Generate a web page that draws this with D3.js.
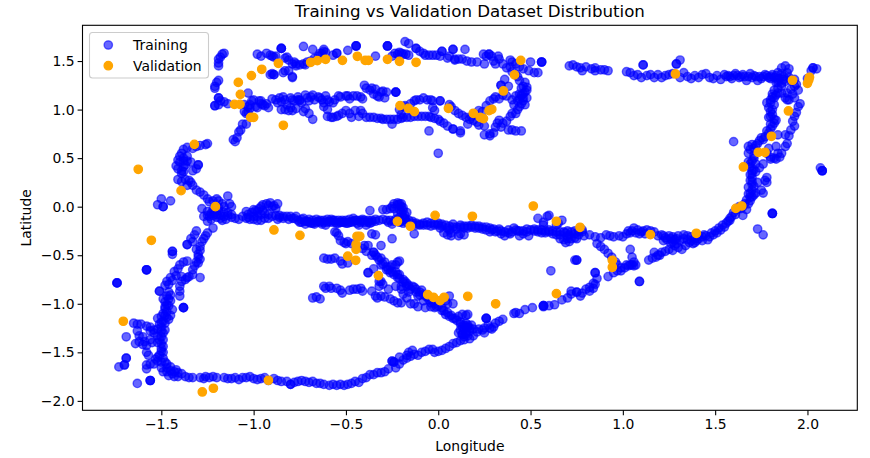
<!DOCTYPE html>
<html><head><meta charset="utf-8">
<script src="https://cdn.jsdelivr.net/npm/d3@7"></script>
<style>html,body{margin:0;padding:0;background:#fff}svg{display:block}text{font-family:"DejaVu Sans",sans-serif;fill:#000}</style>
</head><body><div id="c"></div>
<script>
const trainNorthArc=[[-0.98,1.57],[-0.96,1.55],[-0.93,1.58],[-0.91,1.56],[-0.90,1.55],[-0.89,1.54],[-0.88,1.55],[-0.85,1.63],[-0.85,1.63],[-0.85,1.63],[-0.83,1.53],[-0.82,1.54],[-0.81,1.51],[-0.79,1.47],[-0.78,1.49],[-0.77,1.47],[-0.77,1.45],[-0.75,1.46],[-0.73,1.47],[-0.72,1.46],[-0.71,1.49],[-0.69,1.50],[-0.67,1.53],[-0.65,1.55],[-0.64,1.58],[-0.63,1.58],[-0.62,1.60],[-0.62,1.62],[-0.61,1.59],[-0.73,1.65],[-0.68,1.62],[-0.55,1.58],[-0.55,1.58],[-0.57,1.56],[-0.49,1.61],[-0.445,1.655],[-0.445,1.655],[-0.445,1.655],[-0.34,1.55],[-0.275,1.655],[-0.275,1.655],[-0.275,1.655],[-0.25,1.55],[-0.234,1.58],[-0.22,1.57],[-0.21,1.59],[-0.20,1.58],[-0.19,1.57],[-0.175,1.57],[-0.16,1.56],[-0.18,1.70],[-0.16,1.68],[-0.12,1.63],[-0.12,1.63],[-0.10,1.60],[-0.08,1.58],[-0.07,1.56],[-0.05,1.56],[-0.03,1.56],[-0.01,1.56],[0.01,1.55],[0.02,1.60],[0.02,1.60],[0.05,1.53],[0.06,1.55],[0.08,1.62],[0.08,1.62],[0.09,1.52],[0.09,1.51],[0.11,1.52],[0.13,1.52],[0.145,1.62],[0.155,1.50],[0.18,1.49],[0.21,1.49],[0.245,1.57],[0.25,1.47],[0.26,1.55],[0.275,1.57],[0.275,1.57],[0.29,1.55],[0.30,1.50],[0.31,1.47],[0.325,1.55],[0.33,1.52],[0.35,1.47],[0.37,1.43],[0.39,1.51],[0.39,1.44],[0.40,1.49],[0.42,1.47],[0.44,1.44],[0.46,1.42],[0.50,1.49],[0.49,1.40],[0.52,1.38],[0.54,1.38],[0.56,1.49],[0.56,1.49],[0.56,1.49],[-0.91,1.36],[-0.90,1.37],[-0.89,1.36],[-0.89,1.36],[-0.84,1.38],[-0.83,1.40],[-0.81,1.40],[-0.79,1.33],[-0.79,1.34],[0.38,1.24],[0.36,1.31],[0.34,1.25],[0.34,1.25]];
const trainLeftBranch=[[-1.16,1.58],[-1.17,1.57],[-1.18,1.54],[-1.19,1.52],[-1.19,1.48],[-1.19,1.45],[-1.20,1.28],[-1.21,1.24],[-1.21,1.22],[-1.19,1.30],[-1.19,1.12],[-1.19,1.12],[-1.18,1.09],[-1.21,1.04],[-1.21,1.04],[-1.19,1.05],[-1.16,1.08],[-1.14,1.06],[-1.11,0.69],[-1.10,0.67],[-1.09,0.71],[-1.08,0.77],[-1.07,0.79],[-1.06,0.85],[-1.04,0.85],[-1.04,0.96],[-1.05,0.98],[-1.03,0.97],[-1.02,1.01],[-1.05,1.05],[-1.02,1.05],[-1.03,1.03],[-1.01,1.09],[-1.0,1.10],[-1.03,1.17],[-0.99,1.03],[-0.98,1.02],[-0.96,1.06],[-0.95,1.05],[-0.94,1.04],[-0.97,1.09],[-0.96,1.09],[-0.93,1.06],[-0.92,1.02]];
const trainMiddleUpper=[[-0.90,1.11],[-0.88,1.10],[-0.87,1.07],[-0.86,1.12],[-0.85,1.08],[-0.84,1.13],[-0.83,1.10],[-0.82,1.05],[-0.80,1.12],[-0.79,1.10],[-0.78,1.09],[-0.77,1.01],[-0.76,1.13],[-0.75,1.10],[-0.74,1.07],[-0.73,0.98],[-0.72,1.15],[-0.71,1.12],[-0.70,1.09],[-0.69,1.13],[-0.68,1.15],[-0.67,1.10],[-0.65,1.13],[-0.64,1.12],[-0.63,1.10],[-0.62,1.07],[-0.85,1.00],[-0.83,1.00],[-0.81,0.99],[-0.80,1.02],[-0.79,0.99],[-0.76,1.10],[-0.75,1.09],[-0.72,1.01],[-0.70,0.96],[-0.68,0.90],[-0.62,1.03],[-0.60,1.00],[-0.61,1.14],[-0.60,1.10],[-0.59,1.08],[-0.57,1.07],[-0.56,1.10],[-0.54,1.14],[-0.53,1.13],[-0.50,1.14],[-0.49,1.14],[-0.48,1.11],[-0.46,1.14],[-0.44,1.14],[-0.42,1.13],[-0.41,1.11],[-0.40,1.25],[-0.39,1.22],[-0.37,1.20],[-0.36,1.22],[-0.35,1.16],[-0.34,1.21],[-0.33,1.14],[-0.32,1.13],[-0.31,1.18],[-0.30,1.19],[-0.29,1.12],[-0.28,1.18],[-0.23,1.18],[-0.23,1.18],[-0.23,1.18]];
const trainMiddleLower=[[-0.60,0.93],[-0.58,0.92],[-0.57,0.92],[-0.55,0.93],[-0.54,0.94],[-0.52,0.96],[-0.50,0.99],[-0.48,0.96],[-0.47,0.92],[-0.45,0.99],[-0.43,0.93],[-0.42,0.99],[-0.41,0.96],[-0.39,0.92],[-0.37,0.92],[-0.35,0.92],[-0.33,0.91],[-0.31,0.91],[-0.30,0.90],[-0.28,0.90],[-0.26,0.90],[-0.24,0.90],[-0.22,0.90],[-0.20,0.91],[-0.19,0.92],[-0.17,0.92],[-0.15,0.92],[-0.13,0.93],[-0.11,0.93],[-0.09,0.93],[-0.07,0.93],[-0.05,0.93],[-0.04,0.92],[-0.02,0.91],[0.0,0.90],[0.01,0.88],[0.03,0.86],[0.05,0.83],[0.08,0.80],[0.08,0.80],[0.12,0.78],[0.12,0.76],[0.16,0.85],[0.17,0.90],[0.19,0.89],[0.21,0.87],[0.22,0.84],[0.25,0.83],[0.25,0.74],[0.28,0.75],[0.28,0.73],[0.30,0.76],[0.31,0.82],[0.32,0.86],[0.33,0.89],[0.34,0.82],[0.35,0.86],[-0.25,0.85],[-0.20,0.95],[-0.21,1.00],[-0.19,1.03],[-0.18,1.04],[-0.15,1.06],[-0.13,1.09],[-0.12,1.10],[-0.10,1.10],[-0.08,1.12],[-0.06,1.10],[-0.04,1.10],[-0.03,1.09],[-0.03,1.02],[-0.02,0.99],[0.01,1.09],[0.01,1.09],[0.06,1.05],[0.07,1.03],[0.09,0.99],[0.11,0.96],[0.13,0.94],[0.15,0.92],[-0.05,0.78],[0.0,0.55],[0.18,0.93],[0.20,0.95],[0.22,0.99],[0.24,0.98],[0.26,1.04],[0.28,1.09],[0.30,1.11],[0.31,1.13],[0.33,1.11],[0.35,1.15],[0.37,1.14],[0.40,1.10],[0.42,1.14],[0.44,1.16],[0.46,1.16],[0.48,1.20],[0.48,1.12],[0.47,1.18],[0.46,1.24],[0.47,1.28],[0.45,1.22],[0.44,1.30],[0.43,1.34],[0.40,1.39],[0.42,1.36],[0.46,1.09],[0.47,1.05],[0.45,1.06],[0.43,1.00],[0.41,1.05],[0.43,1.09],[0.40,0.96],[0.39,0.93],[0.42,0.96],[0.37,0.88],[0.38,0.79],[0.40,0.79],[0.42,0.78],[0.45,0.78],[0.44,1.11],[0.44,1.03],[0.46,1.12],[0.48,1.23],[0.45,1.15]];
const trainLeftColumn=[[-1.25,0.65],[-1.26,0.64],[-1.29,0.63],[-1.31,0.62],[-1.33,0.60],[-1.36,0.61],[-1.38,0.59],[-1.39,0.55],[-1.38,0.50],[-1.40,0.52],[-1.41,0.48],[-1.42,0.42],[-1.41,0.39],[-1.39,0.37],[-1.38,0.36],[-1.39,0.34],[-1.36,0.47],[-1.34,0.46],[-1.30,0.43],[-1.30,0.43],[-1.31,0.39],[-1.33,0.37],[-1.41,0.28],[-1.39,0.26],[-1.37,0.28],[-1.35,0.27],[-1.34,0.25],[-1.33,0.22],[-1.31,0.17],[-1.29,0.15],[-1.27,0.12],[-1.25,0.08],[-1.38,0.47],[-1.36,0.52],[-1.37,0.43],[-1.40,0.46],[-1.38,0.41],[-1.36,0.22],[-1.52,0.02],[-1.50,0.08],[-1.49,0.0],[-1.49,0.0],[-1.45,0.06]];
const trainMainBandWest=[[-1.28,-0.02],[-1.24,0.05],[-1.22,0.06],[-1.20,0.08],[-1.19,0.06],[-1.19,-0.04],[-1.17,0.03],[-1.18,-0.12],[-1.16,0.0],[-1.16,-0.06],[-1.14,0.11],[-1.13,0.03],[-1.12,0.0],[-1.14,-0.09],[-1.12,-0.11],[-1.20,-0.11],[-1.21,-0.06],[-1.23,-0.07],[-1.25,-0.09],[-1.27,-0.10],[-1.25,-0.15],[-1.23,-0.13],[-1.10,-0.12],[-1.08,-0.13],[-1.06,-0.10],[-1.04,-0.05],[-1.03,-0.08],[-1.01,-0.06],[-1.0,-0.03],[-0.99,-0.04],[-0.97,-0.02],[-0.96,-0.0],[-0.95,0.02],[-0.93,0.03],[-0.91,0.04],[-0.92,0.01],[-0.89,0.01],[-0.87,0.03],[-1.04,-0.12],[-1.02,-0.13],[-1.0,-0.13],[-0.98,-0.14],[-0.96,-0.14],[-0.94,-0.12],[-0.92,-0.12],[-0.90,-0.10],[-0.88,-0.09],[-0.86,-0.09],[-0.84,-0.10],[-0.82,-0.10],[-0.80,-0.10],[-0.78,-0.12],[-0.76,-0.14],[-0.86,-0.11],[-0.87,-0.13],[-0.84,-0.12],[-0.81,-0.13],[-0.79,-0.12],[-0.77,-0.10],[-0.75,-0.16],[-0.74,-0.13],[-0.73,-0.12],[-0.72,-0.18],[-0.71,-0.15],[-0.70,-0.13],[-0.69,-0.17],[-0.68,-0.14],[-0.67,-0.18],[-0.66,-0.13],[-0.65,-0.15],[-0.64,-0.16],[-0.62,-0.14],[-0.63,-0.18],[-0.61,-0.19],[-0.60,-0.13],[-0.59,-0.15],[-0.58,-0.16],[-0.57,-0.14],[-0.56,-0.16],[-0.55,-0.17],[-0.54,-0.14],[-0.53,-0.16],[-0.52,-0.14],[-0.51,-0.16],[-0.50,-0.14],[-0.49,-0.17],[-0.48,-0.13],[-0.47,-0.16],[-0.46,-0.12],[-0.45,-0.14],[-0.44,-0.17],[-0.43,-0.19],[-0.42,-0.16],[-0.41,-0.13],[-0.40,-0.14],[-0.39,-0.19],[-0.38,-0.14],[-0.36,-0.14],[-0.34,-0.15],[-0.37,-0.04],[-0.30,-0.03],[-0.28,-0.03],[-0.27,-0.16],[-0.25,-0.18],[-0.26,-0.02],[-0.25,0.0],[-0.24,0.03],[-0.22,0.04],[-0.21,0.03],[-0.20,0.03],[-0.19,-0.01],[-0.17,-0.06],[-0.20,-0.06],[-0.19,-0.11],[-0.22,-0.07],[-0.23,-0.13],[-0.21,-0.16],[-0.19,-0.17],[-0.17,-0.16],[-0.14,-0.17],[-0.12,-0.19],[-0.10,-0.18],[-0.08,-0.19],[-0.06,-0.19],[-0.04,-0.20],[-0.02,-0.19],[0.0,-0.19],[0.01,-0.22],[0.02,-0.18],[0.03,-0.27],[0.05,-0.22],[0.07,-0.27],[0.06,-0.20],[0.08,-0.21],[0.1,-0.21],[0.12,-0.21],[0.14,-0.22],[0.16,-0.22],[0.18,-0.21],[0.2,-0.22],[0.22,-0.22],[0.24,-0.23],[0.26,-0.21],[0.28,-0.26],[0.29,-0.24],[0.31,-0.26],[0.33,-0.23],[0.34,-0.28],[0.36,-0.30],[0.38,-0.24],[0.39,-0.28],[0.41,-0.22],[0.43,-0.25],[0.44,-0.30],[0.46,-0.28],[0.48,-0.23],[0.49,-0.30],[0.52,-0.25],[0.54,-0.26],[0.56,-0.27],[0.58,-0.27],[0.6,-0.26],[0.62,-0.28],[0.64,-0.29],[0.66,-0.29],[0.68,-0.34],[0.69,-0.37],[0.7,-0.30],[0.69,-0.27],[0.71,-0.29],[0.74,-0.28],[0.75,-0.33],[0.76,-0.29],[0.78,-0.26],[0.79,-0.30],[0.6,-0.09],[0.59,-0.10],[0.57,-0.16],[0.54,-0.12],[0.57,-0.19],[0.65,-0.17],[0.64,-0.19],[0.67,-0.14],[0.75,-0.55],[0.75,-0.55],[-0.13,-0.28],[-0.25,-0.33],[-0.56,-0.26],[-0.54,-0.30],[-0.55,-0.27],[-0.53,-0.35],[-0.51,-0.37],[-0.50,-0.38],[-0.37,-0.17],[-0.36,-0.28],[-0.34,-0.29],[0.14,-0.29],[0.12,-0.28],[0.11,-0.30],[0.05,-0.29],[0.07,-0.30]];
const trainMainBandDense=[[-1.24,-0.10],[-1.22,-0.09],[-1.20,-0.08],[-1.18,-0.09],[-1.16,-0.10],[-1.14,-0.06],[-1.12,-0.08],[-1.25,-0.05],[-1.22,-0.03],[-1.19,-0.01],[-1.17,-0.14],[-1.15,-0.13],[-1.03,-0.11],[-1.0,-0.10],[-0.98,-0.10],[-0.96,-0.08],[-0.94,-0.07],[-0.92,-0.08],[-0.98,-0.05],[-0.95,-0.04],[-0.90,0.0],[-0.88,-0.02],[-0.74,-0.16],[-0.72,-0.15],[-0.70,-0.16],[-0.68,-0.17],[-0.66,-0.16],[-0.64,-0.14],[-0.62,-0.16],[-0.60,-0.16],[-0.58,-0.13],[-0.56,-0.14],[-0.54,-0.17],[-0.52,-0.16],[-0.50,-0.17],[-0.48,-0.16],[-0.46,-0.15],[-0.44,-0.14],[-0.42,-0.14],[-0.40,-0.16],[-0.38,-0.16],[-0.36,-0.16],[-0.34,-0.13],[-0.32,-0.14],[-0.30,-0.13],[-0.28,-0.14],[-0.26,-0.14],[-0.24,-0.15],[-0.22,-0.14],[-0.20,-0.15],[-0.18,-0.13],[-0.16,-0.14],[-0.14,-0.15],[-0.12,-0.17],[-0.10,-0.19],[-0.08,-0.17],[-0.06,-0.16],[-0.04,-0.17],[-0.02,-0.17],[0.0,-0.17],[0.02,-0.20],[0.04,-0.19],[0.06,-0.24],[0.08,-0.18],[0.10,-0.23],[0.12,-0.19],[0.14,-0.20],[0.16,-0.20],[0.18,-0.19],[0.20,-0.20],[0.22,-0.20],[0.24,-0.21],[0.26,-0.24],[0.28,-0.22],[0.30,-0.23],[0.32,-0.25],[0.34,-0.25],[0.36,-0.26],[0.38,-0.27],[0.40,-0.26],[0.42,-0.24],[0.44,-0.25],[0.46,-0.25],[0.48,-0.26],[0.50,-0.24],[0.52,-0.23],[0.54,-0.24],[0.56,-0.24],[0.58,-0.25],[0.60,-0.24],[0.62,-0.25],[0.64,-0.26],[0.66,-0.26],[0.68,-0.26],[0.70,-0.25],[0.72,-0.26],[0.74,-0.25],[0.76,-0.25],[0.78,-0.24],[0.70,-0.33],[0.71,-0.36],[0.72,-0.33],[0.74,-0.32],[0.66,-0.33],[-0.24,-0.02],[-0.22,0.02],[-0.20,0.0],[-0.21,-0.03],[-0.19,-0.04],[-0.18,-0.09],[-0.18,-0.12],[-0.21,-0.11]];
const trainSouthWest=[[-1.22,-0.22],[-1.25,-0.27],[-1.26,-0.30],[-1.27,-0.33],[-1.28,-0.36],[-1.29,-0.41],[-1.29,-0.45],[-1.30,-0.49],[-1.29,-0.54],[-1.30,-0.58],[-1.31,-0.57],[-1.32,-0.61],[-1.29,-0.73],[-1.33,-0.70],[-1.35,-0.72],[-1.37,-0.75],[-1.39,-0.77],[-1.40,-0.82],[-1.40,-0.87],[-1.40,-0.92],[-1.33,-0.36],[-1.34,-0.33],[-1.32,-0.29],[-1.31,-0.25],[-1.36,-0.39],[-1.36,-0.39],[-1.44,-0.46],[-1.44,-0.46],[-1.44,-0.49],[-1.58,-0.65],[-1.58,-0.65],[-1.58,-0.65],[-1.74,-0.785],[-1.74,-0.785],[-1.74,-0.785],[-1.36,-0.56],[-1.38,-0.57],[-1.40,-0.60],[-1.41,-0.64],[-1.43,-0.67],[-1.45,-0.73],[-1.47,-0.77],[-1.48,-0.81],[-1.51,-0.87],[-1.51,-0.87],[-1.46,-0.88],[-1.45,-0.91],[-1.49,-0.95],[-1.48,-0.98],[-1.45,-0.97],[-1.46,-1.02],[-1.44,-1.06],[-1.48,-1.05],[-1.47,-1.01],[-1.45,-1.12],[-1.47,-1.14],[-1.49,-1.10],[-1.50,-1.13],[-1.52,-1.15],[-1.49,-1.18],[-1.48,-1.20],[-1.50,-1.24],[-1.52,-1.26],[-1.54,-1.27],[-1.56,-1.28],[-1.38,-1.04],[-1.38,-1.04],[-1.38,-1.04],[-1.65,-1.20],[-1.63,-1.21],[-1.61,-1.21],[-1.58,-1.23],[-1.56,-1.24],[-1.54,-1.30],[-1.52,-1.33],[-1.49,-1.30],[-1.48,-1.27],[-1.63,-1.28],[-1.62,-1.33],[-1.60,-1.34],[-1.62,-1.39],[-1.64,-1.41],[-1.60,-1.42],[-1.58,-1.43],[-1.55,-1.40],[-1.52,-1.40],[-1.50,-1.41],[-1.49,-1.37],[-1.49,-1.44],[-1.49,-1.50],[-1.50,-1.49],[-1.58,-1.50],[-1.57,-1.53],[-1.69,-1.34],[-1.69,-1.56],[-1.69,-1.56],[-1.70,-1.63],[-1.70,-1.63],[-1.73,-1.65],[-1.63,-1.82],[-1.56,-1.79],[-1.56,-1.79],[-1.56,-1.79],[-1.58,-1.63],[-1.58,-1.67],[-1.56,-1.62],[-1.54,-1.62],[-1.52,-1.55],[-1.52,-1.59],[-1.49,-1.56],[-1.48,-1.60],[-1.47,-1.62],[-1.50,-1.66],[-1.49,-1.70],[-1.47,-1.70],[-1.46,-1.74],[-1.45,-1.69],[-1.43,-1.70],[-1.41,-1.71],[-1.41,-1.75],[-1.39,-1.72],[-1.37,-1.75],[-1.35,-1.76],[-1.33,-1.76],[-1.47,-0.92],[-1.46,-0.95],[-1.48,-1.03],[-1.47,-1.08],[-1.48,-1.12],[-1.46,-1.16],[-1.50,-1.19],[-1.51,-1.21],[-1.50,-1.28],[-1.50,-1.34],[-1.51,-1.37],[-1.56,-1.37],[-1.59,-1.39],[-1.50,-1.46],[-1.51,-1.53],[-1.53,-1.57],[-1.50,-1.60],[-1.47,-1.66],[-1.44,-1.72],[-1.42,-1.68],[-1.45,-1.65],[-1.43,-1.75],[-1.31,-0.44],[-1.30,-0.52],[-1.33,-0.65],[-1.36,-0.73],[-1.39,-0.72],[-1.42,-0.71],[-1.44,-0.76],[-1.46,-0.80]];
const trainSouthArc=[[-1.29,-1.76],[-1.27,-1.77],[-1.26,-1.75],[-1.24,-1.76],[-1.22,-1.75],[-1.20,-1.76],[-1.16,-1.76],[-1.14,-1.77],[-1.12,-1.77],[-1.10,-1.76],[-1.08,-1.78],[-1.06,-1.76],[-1.04,-1.76],[-1.02,-1.75],[-1.0,-1.77],[-0.98,-1.78],[-0.96,-1.77],[-0.94,-1.76],[-0.92,-1.79],[-0.89,-1.77],[-0.87,-1.79],[-0.85,-1.80],[-0.82,-1.80],[-0.80,-1.83],[-0.80,-1.83],[-0.78,-1.81],[-0.76,-1.80],[-0.74,-1.79],[-0.72,-1.80],[-0.70,-1.81],[-0.68,-1.80],[-0.66,-1.82],[-0.64,-1.82],[-0.62,-1.83],[-0.59,-1.84],[-0.57,-1.83],[-0.55,-1.84],[-0.53,-1.83],[-0.51,-1.84],[-0.49,-1.83],[-0.47,-1.82],[-0.45,-1.80],[-0.43,-1.81],[-0.41,-1.77],[-0.39,-1.76],[-0.37,-1.73],[-0.35,-1.73],[-0.33,-1.71],[-0.31,-1.71],[-0.29,-1.70],[-0.27,-1.67],[-0.25,-1.59],[-0.25,-1.59],[-0.23,-1.66],[-0.21,-1.62],[-0.19,-1.58],[-0.17,-1.56],[-0.15,-1.54],[-0.13,-1.52],[-0.11,-1.53],[-0.09,-1.50],[-0.07,-1.49],[-0.05,-1.47],[-0.03,-1.47],[-0.02,-1.50],[0.0,-1.49],[0.02,-1.48],[0.04,-1.46],[0.06,-1.44],[0.08,-1.41],[0.10,-1.40],[0.12,-1.38],[0.13,-1.32],[0.14,-1.34],[0.15,-1.31],[0.17,-1.36],[0.19,-1.33],[0.21,-1.29],[0.24,-1.27],[0.25,-1.30],[0.28,-1.25],[0.30,-1.24],[0.31,-1.20],[0.33,-1.18],[0.35,-1.16],[0.41,-1.10],[0.42,-1.09],[0.44,-1.10],[0.47,-1.06],[0.51,-1.04],[0.57,-1.03],[0.60,-1.02],[0.63,-1.01],[0.67,-0.96],[0.70,-0.94],[0.72,-0.90],[0.75,-0.88],[0.77,-0.92],[0.80,-0.85],[0.82,-0.83],[0.84,-0.79],[0.85,-0.80],[0.75,-0.88],[0.74,-0.55],[0.85,-0.68],[0.85,-0.68],[0.86,-0.74],[0.92,-0.72],[0.95,-0.68],[0.97,-0.66],[0.99,-0.66],[1.01,-0.63],[1.03,-0.61],[1.05,-0.60],[1.07,-0.60],[1.06,-0.61],[1.04,-0.44],[1.05,-0.52],[1.09,-0.77],[1.09,-0.77],[0.86,-0.38],[0.88,-0.41],[0.90,-0.44],[0.92,-0.48],[0.94,-0.52],[0.96,-0.57],[0.97,-0.60],[0.99,-0.63],[0.57,-1.02],[0.57,-1.02],[0.57,-1.02],[-0.24,-1.60],[-0.24,-1.60],[-0.21,-1.55],[-0.17,-1.53],[-0.16,-1.50],[-0.14,-1.48],[0.15,-1.24],[0.17,-1.25],[0.19,-1.26],[0.14,-1.37],[0.16,-1.33],[0.22,-1.26],[0.25,-1.25],[0.27,-1.22],[0.29,-1.26],[0.72,-0.87],[0.78,-0.89],[0.82,-0.87],[0.84,-0.84],[1.02,-0.60],[1.04,-0.60],[1.06,-0.57]];
const trainInnerLoops=[[-0.62,-0.53],[-0.60,-0.54],[-0.58,-0.54],[-0.56,-0.53],[-0.53,-0.56],[-0.52,-0.59],[-0.49,-0.58],[-0.38,-0.40],[-0.35,-0.47],[-0.35,-0.47],[-0.36,-0.50],[-0.33,-0.52],[-0.32,-0.55],[-0.31,-0.60],[-0.30,-0.59],[-0.28,-0.62],[-0.26,-0.62],[-0.25,-0.60],[-0.23,-0.60],[-0.22,-0.57],[-0.21,-0.56],[-0.38,-0.68],[-0.38,-0.68],[-0.28,-0.65],[-0.26,-0.68],[-0.24,-0.70],[-0.22,-0.73],[-0.21,-0.70],[-0.19,-0.75],[-0.18,-0.77],[-0.20,-0.82],[-0.17,-0.82],[-0.15,-0.85],[-0.13,-0.83],[-0.12,-0.88],[-0.10,-0.88],[-0.09,-0.86],[-0.07,-0.92],[-0.05,-0.96],[-0.03,-0.98],[-0.01,-1.03],[0.02,-1.04],[0.03,-1.07],[0.04,-1.11],[0.06,-1.13],[0.08,-1.15],[0.1,-1.17],[0.12,-1.19],[0.14,-1.22],[0.16,-1.24],[0.18,-1.22],[0.12,-1.27],[0.11,-1.30],[0.13,-1.31],[0.15,-1.29],[0.17,-1.28],[0.15,-1.12],[0.16,-1.11],[0.26,-1.15],[0.26,-1.15],[0.26,-1.15],[-0.62,-0.82],[-0.61,-0.84],[-0.59,-0.82],[-0.58,-0.84],[-0.55,-0.84],[-0.53,-0.86],[-0.52,-0.89],[-0.48,-0.86],[-0.46,-0.85],[-0.44,-0.85],[-0.42,-0.84],[-0.41,-0.87],[-0.68,-0.94],[-0.66,-0.93],[-0.64,-0.95],[-0.36,-0.87],[-0.34,-0.92],[-0.33,-0.94],[-0.31,-0.92],[-0.29,-0.93],[-0.26,-0.95],[-0.24,-0.97],[-0.22,-0.99],[-0.20,-0.99],[-0.17,-0.94],[-0.15,-1.0],[-0.13,-1.0],[-0.11,-1.03],[-0.07,-1.04],[-0.04,-1.03],[-0.02,-1.04],[0.04,-0.97],[0.05,-1.0],[0.08,-1.0],[0.06,-0.92],[0.13,-1.11],[-0.32,-0.77],[-0.30,-0.80],[-0.27,-0.85],[-0.23,-0.82],[-0.20,-0.85],[-0.19,-0.90],[-0.16,-0.88],[-0.11,-0.92],[-0.08,-0.97],[-0.40,-0.40],[-0.41,-0.43],[-0.39,-0.46],[-0.47,-0.38],[-0.49,-0.36],[-0.44,-0.42],[-0.31,-0.40],[-0.35,-0.64],[-0.31,-0.77],[-0.32,-0.82],[0.61,-0.66],[-0.34,-0.50],[-0.31,-0.53],[-0.29,-0.57],[-0.27,-0.65],[-0.25,-0.67],[-0.23,-0.67],[-0.22,-0.70],[-0.21,-0.74],[-0.19,-0.78],[-0.17,-0.79],[-0.16,-0.81],[-0.14,-0.82],[-0.12,-0.85],[-0.10,-0.91],[-0.08,-0.90],[-0.06,-0.93],[-0.04,-0.99],[-0.02,-1.0],[0.0,-1.02],[0.02,-1.07],[0.05,-1.09],[0.07,-1.12],[0.09,-1.15],[0.11,-1.13],[0.12,-1.21],[0.13,-1.24],[0.14,-1.26],[0.15,-1.20],[0.16,-1.22]];
const trainEastBand=[[0.82,-0.29],[0.85,-0.31],[0.88,-0.32],[0.91,-0.29],[0.93,-0.30],[0.95,-0.31],[0.98,-0.30],[1.0,-0.31],[1.02,-0.28],[1.03,-0.25],[1.05,-0.25],[1.06,-0.22],[1.08,-0.24],[1.1,-0.26],[1.12,-0.28],[1.15,-0.25],[1.17,-0.26],[1.19,-0.30],[1.21,-0.29],[1.22,-0.35],[1.23,-0.32],[1.25,-0.30],[1.26,-0.38],[1.27,-0.36],[1.28,-0.34],[1.29,-0.33],[1.3,-0.30],[1.33,-0.29],[1.35,-0.30],[1.37,-0.35],[1.39,-0.33],[1.41,-0.30],[1.43,-0.31],[1.44,-0.29],[1.46,-0.34],[1.48,-0.27],[1.5,-0.25],[1.52,-0.22],[1.54,-0.19],[1.56,-0.17],[1.58,-0.14],[1.59,-0.1],[1.6,-0.06],[1.62,-0.03],[1.64,-0.02],[1.65,0.0],[1.66,0.03],[1.67,0.07],[1.69,0.1],[1.69,0.14],[1.7,0.17],[1.68,0.13],[1.72,0.14],[1.71,0.21],[1.7,0.26],[1.7,0.3],[1.69,0.33],[1.7,0.37],[1.69,0.41],[1.68,0.46],[1.7,0.47],[1.71,0.5],[1.71,0.53],[1.72,0.44],[1.74,0.4],[1.76,0.44],[1.72,0.36],[1.68,0.55],[1.73,0.25],[1.77,0.27],[1.78,0.3],[1.78,0.25],[1.75,0.17],[1.76,0.14],[1.67,-0.03],[1.65,-0.09],[1.81,-0.07],[1.81,-0.07],[1.81,-0.07],[1.73,-0.23],[1.76,-0.29],[1.60,0.67],[1.17,-0.47],[1.19,-0.5],[1.21,-0.47],[1.14,-0.55],[1.16,-0.53],[1.18,-0.52],[1.2,-0.5],[1.23,-0.46],[1.25,-0.44],[1.27,-0.45],[1.28,-0.4],[1.3,-0.42],[1.32,-0.44],[1.34,-0.4],[1.36,-0.37],[1.38,-0.38],[1.4,-0.35],[1.04,-0.27],[1.07,-0.27],[1.09,-0.28],[1.11,-0.25],[1.13,-0.24],[1.22,-0.30],[1.24,-0.34],[1.26,-0.33],[1.27,-0.31],[1.29,-0.38],[1.31,-0.35],[1.33,-0.33],[1.35,-0.34],[1.37,-0.31],[1.39,-0.37],[1.41,-0.33],[1.43,-0.35],[1.45,-0.30],[1.47,-0.31],[1.49,-0.29],[1.51,-0.27],[1.53,-0.24],[1.55,-0.21],[1.57,-0.15],[1.58,-0.12],[1.61,-0.08],[1.63,0.0],[1.68,0.03],[1.69,0.06],[1.70,0.10],[1.71,0.12],[1.68,0.20],[1.70,0.23],[1.69,0.27],[1.70,0.34],[1.71,0.38],[1.69,0.44]];
const trainEastColumn=[[1.68,0.62],[1.7,0.64],[1.72,0.63],[1.74,0.68],[1.75,0.71],[1.77,0.72],[1.78,0.78],[1.8,0.8],[1.81,0.83],[1.82,0.86],[1.83,0.89],[1.8,0.93],[1.79,0.92],[1.8,0.98],[1.81,1.0],[1.79,1.02],[1.78,1.07],[1.8,1.1],[1.82,1.12],[1.81,1.16],[1.82,1.2],[1.84,1.22],[1.86,1.17],[1.88,1.12],[1.89,1.17],[1.91,1.21],[1.93,1.24],[1.95,1.2],[1.93,1.12],[1.9,1.1],[1.96,1.06],[1.95,1.03],[1.94,0.97],[1.93,0.93],[1.92,0.88],[1.88,0.74],[1.9,0.73],[1.89,0.65],[1.88,0.62],[1.86,0.55],[1.84,0.55],[1.82,0.5],[1.8,0.49],[1.78,0.55],[1.79,0.6],[1.84,0.74],[1.83,0.62],[1.91,0.79],[1.93,0.83],[1.83,1.28],[1.85,1.32],[1.87,1.31],[1.83,1.35],[1.86,1.37],[1.89,1.38],[1.86,1.43],[1.88,1.45],[1.9,1.42],[1.91,1.3],[1.93,1.31],[1.94,1.26],[2.03,1.43],[2.03,1.43],[2.05,1.42],[2.02,1.4],[2.07,0.4],[2.08,0.37],[2.08,0.37],[2.08,0.37],[2.0,1.32],[1.8,1.32],[1.69,0.59],[1.71,0.60],[1.73,0.65],[1.76,0.69],[1.79,0.76],[1.80,0.85],[1.82,0.9],[1.81,0.95],[1.82,1.05],[1.80,1.07],[1.81,1.13],[1.83,1.15],[1.84,1.17],[1.86,1.24],[1.84,1.28],[1.86,1.27],[1.88,1.29],[1.90,1.33],[1.87,1.34],[1.84,1.38],[1.92,1.16],[1.89,1.10],[1.80,0.51],[1.83,0.49],[1.85,0.51]];
const trainNorthEast=[[0.73,1.46],[0.71,1.45],[0.75,1.44],[0.77,1.43],[0.78,1.40],[0.80,1.44],[0.83,1.42],[0.85,1.43],[0.85,1.40],[0.88,1.41],[0.90,1.41],[0.92,1.40],[1.02,1.39],[1.04,1.38],[1.06,1.35],[1.08,1.36],[1.10,1.33],[1.11,1.46],[1.11,1.46],[1.13,1.35],[1.15,1.36],[1.17,1.33],[1.19,1.36],[1.21,1.33],[1.23,1.35],[1.25,1.36],[1.27,1.37],[1.29,1.47],[1.29,1.47],[1.31,1.51],[1.31,1.33],[1.33,1.38],[1.35,1.34],[1.37,1.32],[1.39,1.35],[1.41,1.33],[1.43,1.36],[1.45,1.37],[1.47,1.33],[1.49,1.32],[1.51,1.35],[1.53,1.31],[1.55,1.36],[1.57,1.35],[1.59,1.32],[1.61,1.37],[1.63,1.33],[1.65,1.36],[1.67,1.30],[1.69,1.37],[1.71,1.35],[1.73,1.30],[1.75,1.32],[1.77,1.36],[1.79,1.33],[1.81,1.36],[1.84,1.31],[1.56,1.34],[1.58,1.34],[1.60,1.35],[1.62,1.35],[1.64,1.34],[1.66,1.34],[1.68,1.34],[1.70,1.33],[1.72,1.34],[1.74,1.34],[1.76,1.34],[1.78,1.35],[1.80,1.34],[1.82,1.33]];
const valLon=[-1.321,-1.625,-1.393,-1.207,-0.866,-0.956,-1.012,-1.083,-1.072,-1.104,-1.074,-1.016,-1.0,-0.839,-0.89,-0.691,-0.655,-0.61,-0.519,-0.438,-0.396,-0.378,-0.275,-0.21,-0.12,0.447,0.413,0.353,-0.207,-0.162,-0.129,0.055,0.19,0.227,0.245,0.275,0.29,0.515,-0.017,0.185,0.64,0.768,-0.221,-0.151,-0.749,-0.44,-0.425,-0.445,-0.445,-0.49,-0.447,-0.324,-0.057,-0.026,0.01,0.032,0.16,0.311,0.64,1.149,1.398,1.612,1.644,1.653,1.734,1.77,1.805,1.897,1.919,2.0,2.011,2.007,1.285,0.943,0.943,-1.706,-1.554,-1.278,-1.218,-0.92];
const valLat=[0.642,0.385,0.165,0.0,1.477,1.415,1.35,1.28,1.157,1.054,1.054,0.92,0.92,0.838,-0.24,1.487,1.504,1.518,1.507,1.549,1.507,1.507,1.518,1.497,1.487,1.507,1.357,1.192,1.041,1.013,0.979,1.013,0.962,0.92,0.907,0.989,1.003,0.007,-0.089,-0.099,-0.15,-0.212,-0.151,-0.202,-0.295,-0.305,-0.305,-0.39,-0.44,-0.51,-0.552,-0.71,-0.906,-0.933,-0.967,-0.933,-0.923,-1.0,-0.895,-0.288,-0.274,-0.017,0.007,0.409,0.56,0.56,0.725,0.986,1.302,1.27,1.333,1.305,1.367,-0.552,-0.624,-1.18,-0.346,-1.908,-1.87,-1.788];
const xTicks=[-1.5,-1.0,-0.5,0.0,0.5,1.0,1.5,2.0];
const yTicks=[-2.0,-1.5,-1.0,-0.5,0.0,0.5,1.0,1.5];
const seriesLabels=["Training","Validation"];
const seriesColors=["#0000ff","#ffa500"];

const W=870,H=458,L=82.5,R=857.3,T=25.3,B=410.3;
const x=d3.scaleLinear().domain([-1.927,2.270]).range([L,R]);
const y=d3.scaleLinear().domain([-2.097,1.868]).range([B,T]);
const svg=d3.select("#c").append("svg").attr("width",W).attr("height",H);
const training=[].concat(trainNorthArc,trainLeftBranch,trainMiddleUpper,trainMiddleLower,trainLeftColumn,trainMainBandWest,trainMainBandDense,trainSouthWest,trainSouthArc,trainInnerLoops,trainEastBand,trainEastColumn,trainNorthEast);
const validation=valLon.map((d,i)=>[d,valLat[i]]);
const r=4.17,sw=1.39;
svg.append("g").selectAll("circle").data(training).join("circle")
 .attr("cx",d=>x(d[0])).attr("cy",d=>y(d[1])).attr("r",r).attr("fill",seriesColors[0]).attr("fill-opacity",0.6).attr("stroke",seriesColors[0]).attr("stroke-opacity",0.6).attr("stroke-width",sw);
svg.append("g").selectAll("circle").data(validation).join("circle")
 .attr("cx",d=>x(d[0])).attr("cy",d=>y(d[1])).attr("r",r).attr("fill",seriesColors[1]).attr("stroke",seriesColors[1]).attr("stroke-width",sw);
const fmt=d3.format(".1f");
const gx=svg.append("g").attr("transform",`translate(0,${B})`).call(d3.axisBottom(x).tickValues(xTicks).tickFormat(fmt).tickSize(4.9).tickSizeOuter(0));
const gy=svg.append("g").attr("transform",`translate(${L},0)`).call(d3.axisLeft(y).tickValues(yTicks).tickFormat(fmt).tickSize(4.9).tickSizeOuter(0));
[gx,gy].forEach(g=>{g.select(".domain").remove();g.selectAll("line").attr("stroke","#000").attr("stroke-width",1.1);g.selectAll("text").attr("font-size",13.9).attr("font-family",'"DejaVu Sans"').attr("fill","#000");});
gx.selectAll("text").attr("y",8.5);
gy.selectAll("text").attr("x",-8);
svg.append("rect").attr("x",L).attr("y",T).attr("width",R-L).attr("height",B-T).attr("fill","none").attr("stroke","#000").attr("stroke-width",1.1);
svg.append("text").attr("x",(L+R)/2).attr("y",17).attr("text-anchor","middle").attr("font-size",16.67).text("Training vs Validation Dataset Distribution");
svg.append("text").attr("x",(L+R)/2).attr("y",451).attr("text-anchor","middle").attr("font-size",13.9).text("Longitude");
svg.append("text").attr("transform",`translate(31,${(T+B)/2}) rotate(-90)`).attr("text-anchor","middle").attr("font-size",13.9).text("Latitude");
const lg=svg.append("g");
lg.append("rect").attr("x",89.5).attr("y",32.5).attr("width",119).attr("height",45.5).attr("rx",3).attr("fill","#fff").attr("fill-opacity",0.8).attr("stroke","#ccc").attr("stroke-width",1.1);
seriesLabels.forEach((s,i)=>{const cy=45+i*20.7;
 const c=lg.append("circle").attr("cx",108.3).attr("cy",cy).attr("r",r).attr("fill",seriesColors[i]).attr("fill-opacity",i?1:0.6).attr("stroke",seriesColors[i]).attr("stroke-opacity",i?1:0.6).attr("stroke-width",sw);
 lg.append("text").attr("x",133).attr("y",cy+5).attr("font-size",13.9).text(s);});
</script></body></html>
